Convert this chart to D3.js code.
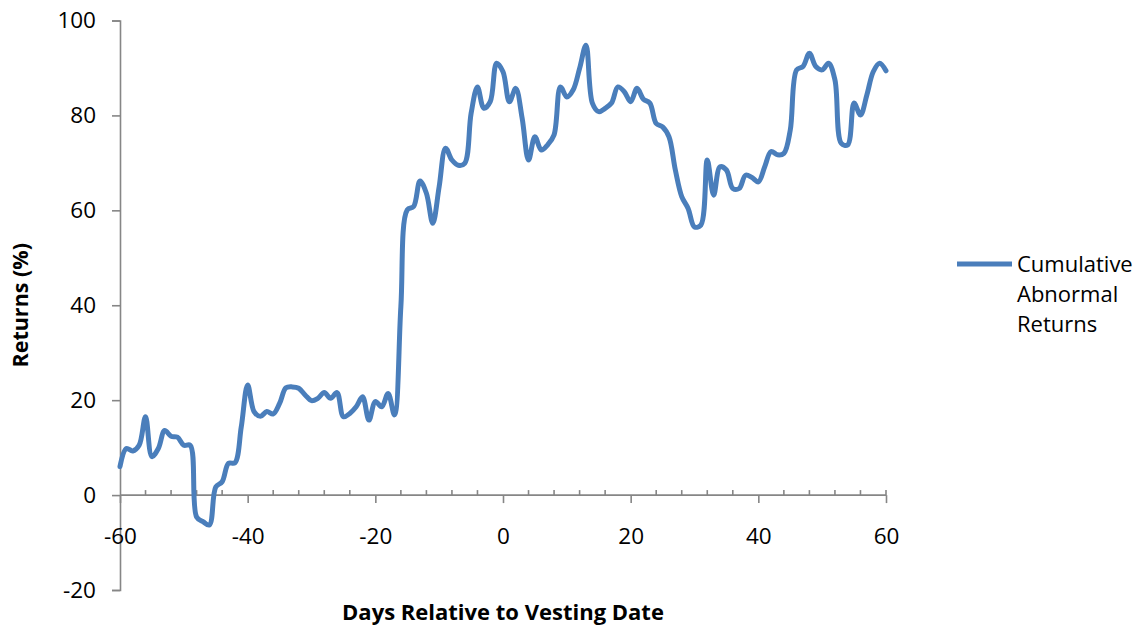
<!DOCTYPE html>
<html>
<head>
<meta charset="utf-8">
<script src="https://cdn.jsdelivr.net/npm/d3@7/dist/d3.min.js"></script>
<style>
  html, body { margin: 0; padding: 0; background: #fff; }
  svg { display: block; }
</style>
</head>
<body>
<svg id="chart" width="1142" height="631"></svg>
<script>
// cumulative abnormal returns (%), one value per day starting at firstDay
const firstDay = -60;
const returns = [
  6.0, 9.8, 9.3, 10.5, 16.5, 8.1, 9.8, 13.6, 12.4, 12.2,
  10.5, 10.5, -4.6, -5.6, -6.3, 1.7, 2.8, 6.7, 6.8, 14.4,
  23.2, 17.6, 16.6, 17.6, 17.1, 19.3, 22.6, 22.8, 22.5, 21.1,
  19.9, 20.4, 21.6, 20.4, 21.6, 16.5, 17.2, 18.6, 20.7, 15.8,
  19.7, 18.6, 21.4, 16.9, 39.7, 60.1, 60.8, 66.2, 63.6, 57.3,
  65.0, 73.1, 70.6, 69.5, 69.9, 80.4, 86.0, 81.5, 82.9, 91.0,
  89.2, 82.9, 85.7, 79.4, 70.6, 75.5, 72.7, 73.8, 75.9, 86.0,
  83.9, 85.4, 89.9, 94.8, 82.6, 80.8, 81.5, 82.6, 86.0, 85.0,
  82.9, 85.7, 83.4, 82.6, 78.3, 77.6, 75.5, 68.5, 62.9, 60.4,
  56.5, 56.9, 70.6, 63.2, 69.2, 68.5, 64.6, 64.6, 67.4, 66.9,
  66.0, 69.2, 72.4, 71.7, 72.0, 76.9, 89.6, 90.3, 93.1, 90.3,
  89.6, 91.0, 87.5, 74.1, 73.8, 82.6, 80.1, 84.3, 89.2, 91.0,
  89.4
];
const xTickLabels = [-60, -40, -20, 0, 20, 40, 60];
const yTickLabels = [-20, 0, 20, 40, 60, 80, 100];
const seriesName = ["Cumulative", "Abnormal", "Returns"];

const data = returns.map((v, i) => ({ day: firstDay + i, value: v }));

const svg = d3.select('#chart');
const margin = { top: 20.5, left: 120, right: 256, bottom: 41 };
const width = 1142, height = 631;
const axisColor = '#868686';
const lineColor = '#4a7ebb';
const font = '"Open Sans", Lato, sans-serif';

const xScale = d3.scaleLinear()
    .domain([-60, 60])
    .range([margin.left, width - margin.right]);
const yScale = d3.scaleLinear()
    .domain([-20, 100])
    .range([height - margin.bottom, margin.top]);

const g = svg.append('g');

// y axis with ticks to the left (plain hyphen for negatives, like the original)
const yAxis = d3.axisLeft(yScale).tickValues(yTickLabels).tickSize(8).tickPadding(16)
    .tickFormat(d => String(d));
const yg = g.append('g').attr('transform', `translate(${xScale(-60)},0)`).call(yAxis);
yg.select('.domain').attr('stroke', axisColor).attr('stroke-width', 1.6);
yg.selectAll('.tick line').attr('stroke', axisColor).attr('stroke-width', 1.6);
yg.selectAll('.tick text').attr('fill', '#000').style('font-family', font).style('font-size', '22.5px');

// x axis on the zero line: major ticks every 20 below, minor every 4 above
const xAxis = d3.axisBottom(xScale).tickValues(xTickLabels).tickSize(8).tickPadding(25)
    .tickFormat(d => String(d));
const xg = g.append('g').attr('transform', `translate(0,${yScale(0)})`).call(xAxis);
xg.select('.domain').attr('stroke', axisColor).attr('stroke-width', 1.6).attr('d', `M${xScale(-60)},0H${xScale(60)}`);
xg.selectAll('.tick line').attr('stroke', axisColor).attr('stroke-width', 1.6);
xg.selectAll('.tick text').attr('fill', '#000').style('font-family', font).style('font-size', '22.5px');

const minorTicks = d3.range(-60, 61, 4).filter(d => (d + 60) % 20 !== 0 || d === 60);
xg.selectAll('.minor')
    .data(minorTicks)
    .join('line')
    .attr('class', 'minor')
    .attr('x1', d => xScale(d)).attr('x2', d => xScale(d))
    .attr('y1', 0).attr('y2', -5)
    .attr('stroke', axisColor).attr('stroke-width', 1.6);

// the series
const line = d3.line()
    .x(d => xScale(d.day))
    .y(d => yScale(d.value))
    .curve(d3.curveCatmullRom.alpha(0.5));

g.append('path')
    .datum(data)
    .attr('fill', 'none')
    .attr('stroke', lineColor)
    .attr('stroke-width', 5)
    .attr('stroke-linejoin', 'round')
    .attr('stroke-linecap', 'round')
    .attr('d', line);

// axis titles
g.append('text')
    .attr('transform', `translate(28,${(yScale(100) + yScale(-20)) / 2}) rotate(-90)`)
    .attr('text-anchor', 'middle')
    .style('font-family', font).style('font-size', '21.5px').style('font-weight', 'bold')
    .text('Returns (%)');
g.append('text')
    .attr('x', 503).attr('y', 620)
    .attr('text-anchor', 'middle')
    .style('font-family', font).style('font-size', '22px').style('font-weight', 'bold')
    .text('Days Relative to Vesting Date');

// legend
const lg = g.append('g').attr('transform', 'translate(957,264)');
lg.append('line')
    .attr('x1', 0).attr('x2', 55).attr('y1', 0).attr('y2', 0)
    .attr('stroke', lineColor).attr('stroke-width', 5);
lg.selectAll('text')
    .data(seriesName)
    .join('text')
    .attr('x', 60)
    .attr('y', (d, i) => 8 + i * 30)
    .style('font-family', font).style('font-size', '22px')
    .text(d => d);
</script>
</body>
</html>
